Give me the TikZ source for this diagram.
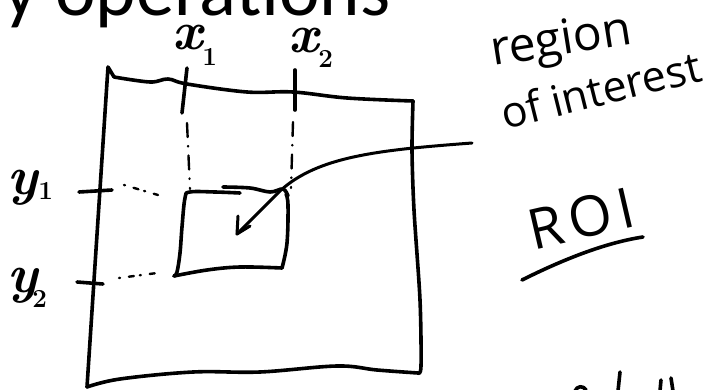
\documentclass[tikz,border=0pt]{standalone}
\usepackage{fontspec}
\newfontfamily\handfont{Open Sans}
\newfontfamily\titlefont{Carlito}
\begin{document}
\begin{tikzpicture}[x=1pt,y=-1pt,
  ink/.style={line width=3.6pt, line cap=round, line join=round},
  midink/.style={line width=3pt, line cap=round, line join=round},
  guide/.style={line width=2.4pt, line cap=round, dash pattern=on 14pt off 9pt on 0.5pt off 9pt},
  dotguide/.style={line width=2.4pt, line cap=round, dash pattern=on 1pt off 9pt on 5pt off 6pt},
  hand/.style={inner sep=0pt, outer sep=0pt},
  lbl/.style={hand, anchor=base west, font=\fontsize{54}{54}\selectfont\bfseries\itshape},
  sub/.style={font=\fontsize{26}{26}\selectfont\bfseries\upshape},
]
\useasboundingbox (0,0) rectangle (709,390);
\fill[white] (0,0) rectangle (709,390);

% title (cut off at top)
\node[hand, anchor=base west] (title) at (3,16) {\titlefont\fontsize{77}{77}\selectfont y operations};

% big image frame
\draw[ink] (87,387) -- (108,67) -- (114,77);
\draw[ink] plot[smooth, tension=0.6] coordinates {(114,77) (150,82) (168,79) (187,84) (247,92) (293,92) (347,98) (413,101)};
\draw[ink] plot[smooth, tension=0.5] coordinates {(413,101) (412,150) (414,210) (420,300) (421,366) (418,373)};
\draw[ink] plot[smooth, tension=0.6] coordinates {(418,373) (377,370) (337,366) (260,372) (193,372) (120,379) (87,387)};

% ticks
\draw[ink] (187,68) -- (182,113);
\draw[ink] (295,70) -- (295,110);
\draw[ink] (79,192) -- (112,190);
\draw[ink] (77,282) -- (103,284);

% guides
\draw[guide] (187,123) -- (190,189);
\draw[guide] (293,122) -- (291,188);
\draw[dotguide] (124,185) -- (158,195);
\draw[dotguide] (119,278) -- (157,273);

% labels
\node[lbl] (x1) at (172,50) {x\raisebox{-16pt}{\fontsize{26}{26}\selectfont\upshape 1}};
\node[lbl] (x2) at (288,53) {x\raisebox{-15pt}{\fontsize{26}{26}\selectfont\upshape 2}};
\node[lbl] (y1) at (8,195) {y\raisebox{-5pt}{\fontsize{26}{26}\selectfont\upshape 1}};
\node[lbl] (y2) at (7,292) {y\kern-5pt\raisebox{-15pt}{\fontsize{26}{26}\selectfont\upshape 2}};

% ROI rectangle
\draw[ink] plot[smooth, tension=0.6] coordinates {(240,193) (215,192) (190,192) (185,198) (182,227) (180,253) (177,272) (174,276)};
\draw[ink] plot[smooth, tension=0.6] coordinates {(174,276) (207,270) (240,267) (282,268)};
\draw[ink] plot[smooth, tension=0.6] coordinates {(282,268) (287,243) (288,205) (286,194)};
\draw[ink] plot[smooth, tension=0.6] coordinates {(223,187) (250,188) (270,192) (283,189) (288,196)};

% arrow
\coordinate (astart) at (472,143);
\coordinate (atip) at (237,234);
\draw[midink] (astart) .. controls (380,150) and (318,156) .. (280,191) -- (atip);
\draw[midink] (atip) -- ++(1,-18);
\draw[midink] (atip) -- ++(13,-8);

% region of interest
\node[hand, anchor=base west, rotate=9] (region) at (493,66) {\handfont\fontsize{48}{48}\selectfont region};
\node[hand, anchor=base west, rotate=14] (interest) at (505,130) {\handfont\fontsize{43}{43}\selectfont of interest};

% ROI
\node[hand, anchor=base west, rotate=13] (roi) at (533,250) {\handfont\fontsize{56}{56}\selectfont R\hspace{7pt}O\hspace{7pt}I};
\draw[ink] (522,280) .. controls (570,256) and (610,242) .. (643,237);

% cut-off handwriting at bottom right
\draw[ink] (575,391) .. controls (577,386) and (583,385) .. (586,390);
\draw[ink] (620,372) -- (618,391);
\draw[ink] (661,380) -- (660,391);
\draw[ink] (671,378) -- (673,391);
\end{tikzpicture}
\end{document}
